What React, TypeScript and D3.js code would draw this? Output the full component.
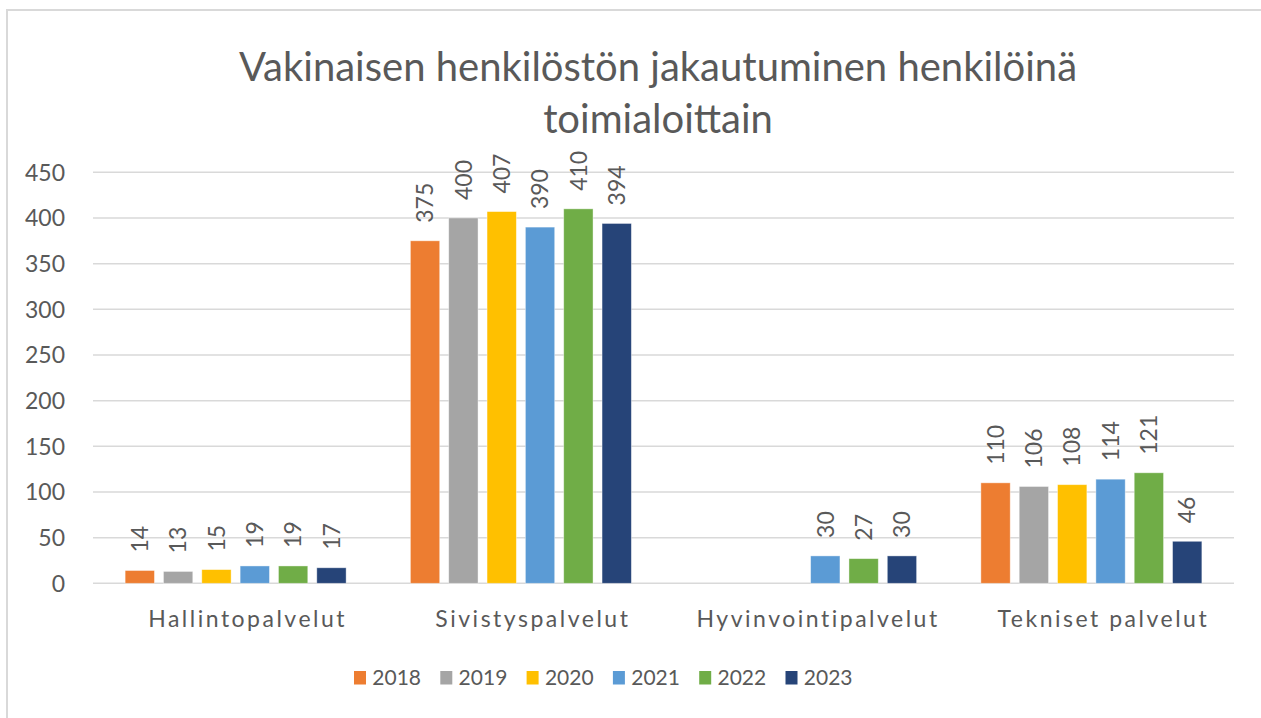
import React from "react";
import * as d3 from "d3";

const categories = ["Hallintopalvelut", "Sivistyspalvelut", "Hyvinvointipalvelut", "Tekniset palvelut"];
const years = ["2018", "2019", "2020", "2021", "2022", "2023"];
const v2018: (number | null)[] = [14, 375, null, 110];
const v2019: (number | null)[] = [13, 400, null, 106];
const v2020: (number | null)[] = [15, 407, null, 108];
const v2021: (number | null)[] = [19, 390, 30, 114];
const v2022: (number | null)[] = [19, 410, 27, 121];
const v2023: (number | null)[] = [17, 394, 30, 46];
const yTicks = [0, 50, 100, 150, 200, 250, 300, 350, 400, 450];
const colors = ["#ED7D31", "#A5A5A5", "#FFC000", "#5B9BD5", "#70AD47", "#264478"];
const titleLines = ["Vakinaisen henkilöstön jakautuminen henkilöinä", "toimialoittain"];

const series = [v2018, v2019, v2020, v2021, v2022, v2023];

export default function App() {
  const W = 1261, H = 718;
  const left = 93, right = 1234, top = 172.3, bottom = 583.3;
  const font = "Lato, 'Open Sans', sans-serif";
  const textColor = "#595959";

  const x0 = d3.scaleBand<string>().domain(categories).range([left, right]);
  const bw = x0.bandwidth();
  const x1 = d3.scaleBand<string>().domain(years)
    .range([bw / 2 - 115, bw / 2 + 115]).paddingInner(0.235).paddingOuter(0.1175);
  const y = d3.scaleLinear().domain([0, 450]).range([bottom, top]);

  const legendStep = 86.3;
  const legendStart = 354;

  return (
    <svg width={W} height={H} style={{ position: "absolute", left: 0, top: 0, background: "#fff" }}
      fontFamily={font}>
      <rect x={7} y={10} width={1400} height={900} fill="#fff" stroke="#d9d9d9" strokeWidth={2} />
      {titleLines.map((t, i) => (
        <text key={i} x={658} y={81 + i * 52} textAnchor="middle" fontSize={40} fill={textColor}>{t}</text>
      ))}
      {yTicks.map((t) => (
        <g key={t}>
          <line x1={left} x2={right} y1={y(t)} y2={y(t)} stroke="#d9d9d9" strokeWidth={1.5} />
          <text x={65} y={y(t)} dy="0.36em" textAnchor="end" fontSize={23} fill={textColor}>{t}</text>
        </g>
      ))}
      {categories.map((c, ci) => (
        <g key={c} transform={`translate(${x0(c)},0)`}>
          {years.map((yr, si) => {
            const v = series[si][ci];
            if (v == null) return null;
            const bx = x1(yr)!;
            const cx = bx + x1.bandwidth() / 2;
            const ty = y(v) - 18;
            return (
              <g key={yr}>
                <rect x={bx} y={y(v)} width={x1.bandwidth()} height={bottom - y(v)} fill={colors[si]}
                  stroke="#ffffff" strokeOpacity={0.5} strokeWidth={0.8} />
                <text transform={`translate(${cx},${ty}) rotate(-90)`} dy="0.36em" textAnchor="start"
                  fontSize={23} fill={textColor}>{v}</text>
              </g>
            );
          })}
          <text x={bw / 2 + 12} y={626.7} textAnchor="middle" fontSize={23} letterSpacing={2.5}
            fill={textColor}>{c}</text>
        </g>
      ))}
      {years.map((yr, i) => (
        <g key={yr} transform={`translate(${legendStart + i * legendStep},0)`}>
          <rect x={0} y={671} width={12} height={13.5} fill={colors[i]} />
          <text x={18.3} y={685} fontSize={21} fill={textColor}>{yr}</text>
        </g>
      ))}
    </svg>
  );
}
